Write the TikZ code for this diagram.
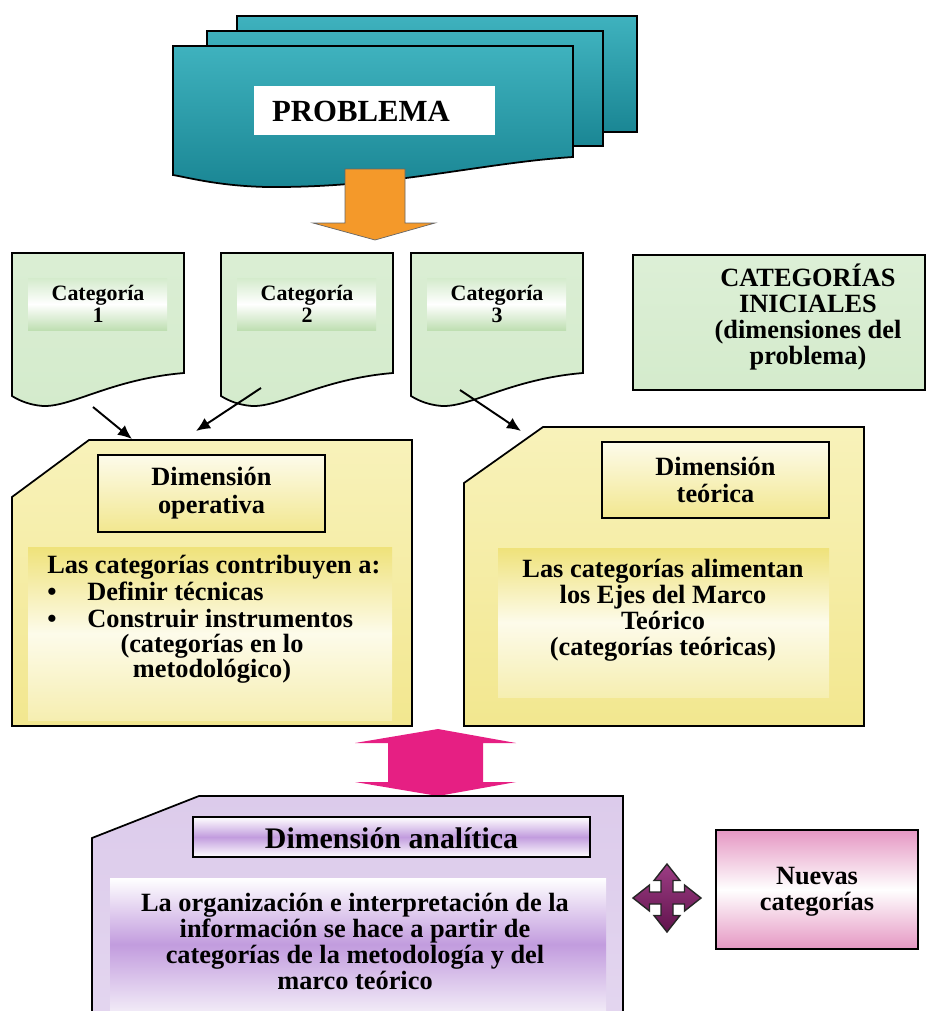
\documentclass[tikz,border=0pt]{standalone}
\usepackage{fontspec}
\setmainfont{Liberation Serif}
\usepackage{tikz}
\usetikzlibrary{calc,arrows.meta,positioning}

\definecolor{TealTop}{HTML}{3FB2BE}
\definecolor{TealBot}{HTML}{1A8694}
\definecolor{ArrowOrange}{HTML}{F4992A}
\definecolor{CatGreen}{HTML}{D4EBCC}
\definecolor{CatBand}{HTML}{BFDFB2}
\definecolor{DocYellow}{HTML}{F8F2BA}
\definecolor{DocYellowDark}{HTML}{F2E78F}
\definecolor{BandYellow}{HTML}{EFE27A}
\definecolor{ArrowPink}{HTML}{E61F83}
\definecolor{Lavender}{HTML}{DCCBEB}
\definecolor{LavenderDark}{HTML}{C29CDE}
\definecolor{NewPink}{HTML}{E597C3}
\definecolor{CrossPurple}{HTML}{8B1B6E}

\begin{document}
\begin{tikzpicture}[x=0.02cm, y=-0.02cm,
    edge/.style={draw=black, line width=1pt},
    txt/.style={font=\bfseries\fontsize{15}{14.8}\selectfont, align=center, inner sep=0pt},
    cattxt/.style={font=\bfseries\fontsize{12.5}{12.6}\selectfont, align=center, inner sep=0pt},
    link/.style={line width=1.1pt, -{Latex[length=8pt, width=7pt]}},
  ]
        \pgfmathsetmacro{\cw}{172}
        \pgfmathsetmacro{\ch}{120}
        \pgfmathsetmacro{\ca}{6}
        \pgfmathsetmacro{\chh}{13}
        \pgfmathsetmacro{\cb}{17.5}
        \pgfmathsetmacro{\ct}{34}
        \useasboundingbox (0,0) rectangle (926,1011);
        % problema: three stacked pages
        \shade[edge, top color=TealTop, bottom color=TealBot] (237,16) rectangle (637,132);
        \shade[edge, top color=TealTop, bottom color=TealBot] (207,31) rectangle (603,146);
        \shade[edge, top color=TealTop, bottom color=TealBot] (173,46) -- (573,46) -- (573,157)
            .. controls (480,163) and (390,188) .. (267,187)
            .. controls (220,186) and (190,178) .. (173,175) -- cycle;
        \node[fill=white, minimum width=4.82cm, minimum height=0.98cm] (probbox) at (374.5,110.5) {};
        \node[font=\bfseries\fontsize{17.5}{17.5}\selectfont, inner sep=0pt] (prob) at (361,111) {PROBLEMA};
        \path[draw=black!60, fill=ArrowOrange] (345,169) -- (405,169) -- (405,223) -- (435,223)
            -- (375,240) -- (313,223) -- (345,223) -- cycle;
        % categorias
        \foreach \n/\x in {1/12, 2/221, 3/411}{
          \begin{scope}[shift={(\x,253)}]
            \shade[edge, top color=CatGreen!85, bottom color=CatGreen] (0,0) -- (\cw,0) -- (\cw,\ch)
                .. controls (100,126) and (60,154) .. (31,153)
                .. controls (18,152) and (8,148) .. (0,143) -- cycle;
            \shade[top color=CatGreen, bottom color=CatBand, middle color=white] (16,25) rectangle (155,77);
            \node[cattxt] (cat\n) at (86,51) {Categoría\\\n};
          \end{scope}
        }
        \shade[edge, top color=CatGreen!80, bottom color=CatGreen] (633,255) rectangle (925,390);
        \node[txt] (ini) at (808,317) {CATEGORÍAS\\INICIALES\\(dimensiones del\\problema)};
        % dimension operativa
        \shade[edge, top color=DocYellow, bottom color=DocYellowDark] (89,440) -- (412,440) -- (412,726)
            -- (12,726) -- (12,497) -- cycle;
        \shade[top color=BandYellow, bottom color=DocYellowDark!70, middle color=white!70!DocYellow] (28,547) rectangle (392,720);
        \shade[edge, top color=white!70!DocYellow, bottom color=DocYellowDark] (98,455) rectangle (325,532);
        \node[txt] (opname) at (211.5,493.5) {Dimensión\\[1pt]operativa};
        \node[txt, anchor=base west] (op1) at (47,573) {Las categorías contribuyen a:};
        \node[txt, anchor=base] (bul1) at (52,600) {\textbullet};
        \node[txt, anchor=base west] (op2) at (87,600) {Definir técnicas};
        \node[txt, anchor=base] (bul2) at (52,627) {\textbullet};
        \node[txt, anchor=base west] (op3) at (87,627) {Construir instrumentos};
        \node[txt, anchor=base] (op4) at (212,652) {(categorías en lo};
        \node[txt, anchor=base] (op5) at (212,677) {metodológico)};
        % dimension teorica
        \shade[edge, top color=DocYellow, bottom color=DocYellowDark] (543,427) -- (864,427) -- (864,726)
            -- (464,726) -- (464,483) -- cycle;
        \shade[top color=BandYellow, bottom color=DocYellowDark!70, middle color=white!70!DocYellow] (498,548) rectangle (829,697);
        \shade[edge, top color=white!70!DocYellow, bottom color=DocYellowDark] (602,442) rectangle (829,518);
        \node[txt] (teoname) at (715.5,480) {Dimensión\\[1pt]teórica};
        \node[txt] (teotxt) at (663,610) {Las categorías alimentan\\los Ejes del Marco\\Teórico\\(categorías teóricas)};
        % links
        \coordinate (c1out) at (93,407);
        \coordinate (c2out) at (261,388);
        \coordinate (c3out) at (460,390);
        \coordinate (opin) at (132,439);
        \coordinate (opin2) at (196,431);
        \coordinate (teoin) at (521,431);
        \draw[link] (c1out) -- (opin);
        \draw[link] (c2out) -- (opin2);
        \draw[link] (c3out) -- (teoin);
        \fill[ArrowPink] (438,729) -- (516,743) -- (483,743) -- (483,782) -- (516,782) -- (438,796)
            -- (355,782) -- (388,782) -- (388,743) -- (355,743) -- cycle;
        % dimension analitica
        \shade[top color=Lavender, bottom color=Lavender!80] (199,796) -- (623,796) -- (623,1015)
            -- (92,1015) -- (92,838) -- cycle;
        \draw[line width=1pt] (623,1015) -- (623,796) -- (199,796) -- (92,838) -- (92,1015);
        \shade[top color=white, bottom color=white!60!Lavender, middle color=LavenderDark] (110,878) rectangle (606,1011);
        \shade[edge, top color=white, bottom color=white, middle color=LavenderDark] (193,817) rectangle (590,857);
        \node[font=\bfseries\fontsize{17}{17}\selectfont, inner sep=0pt] (analit) at (391.5,838) {Dimensión analítica};
        \node[txt] (anatxt) at (355,941) {La organización e interpretación de la\\información se hace a partir de\\categorías de la metodología y del\\marco teórico};
        % nuevas categorias
        \begin{scope}[shift={(667,898)}]
          \shade[draw=black!85, line width=0.8pt, top color=CrossPurple!85!white, bottom color=CrossPurple!70!black]
              (0,-\ct) -- (\chh,-\cb) -- (\ca,-\cb) -- (\ca,-\ca) -- (\cb,-\ca) -- (\cb,-\chh) -- (\ct,0)
              -- (\cb,\chh) -- (\cb,\ca) -- (\ca,\ca) -- (\ca,\cb) -- (\chh,\cb) -- (0,\ct) -- (-\chh,\cb)
              -- (-\ca,\cb) -- (-\ca,\ca) -- (-\cb,\ca) -- (-\cb,\chh) -- (-\ct,0) -- (-\cb,-\chh)
              -- (-\cb,-\ca) -- (-\ca,-\ca) -- (-\ca,-\cb) -- (-\chh,-\cb) -- cycle;
        \end{scope}
        \shade[edge, top color=NewPink, bottom color=NewPink, middle color=white] (716,830) rectangle (918,949);
        \node[txt] (nuevas) at (817,892) {Nuevas\\categorías};
        % \draw[red] (0,0) grid[step=100] (926,1011);
\end{tikzpicture}
\end{document}
